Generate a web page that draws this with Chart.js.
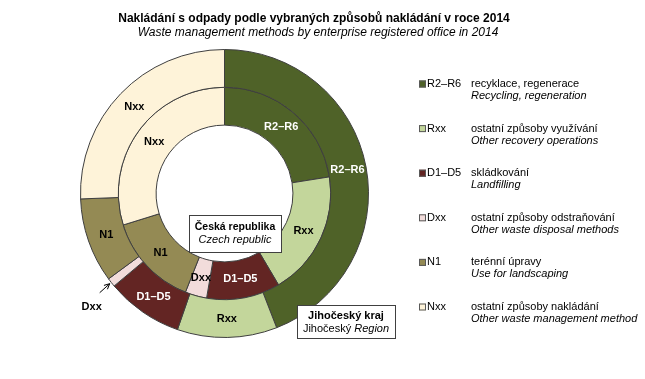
<!DOCTYPE html>
<html><head><meta charset="utf-8">
<script src="https://cdn.jsdelivr.net/npm/chart.js@4.4.1/dist/chart.umd.min.js"></script>
<style>html,body{margin:0;padding:0;background:#fff;} #wrap{width:645px;height:379px;position:relative;}</style>
</head><body><div id="wrap"><canvas id="c" width="645" height="379"></canvas></div>
<script>
const categories = ['R2–R6','Rxx','D1–D5','Dxx','N1','Nxx'];
const namesCz = ['recyklace, regenerace','ostatní způsoby využívání','skládkování','ostatní způsoby odstraňování','terénní úpravy','ostatní způsoby nakládání'];
const namesEn = ['Recycling, regeneration','Other recovery operations','Landfilling','Other waste disposal methods','Use for landscaping','Other waste management method'];
const regionValues = [44.1, 11.2, 8.6, 1.0, 9.5, 25.6];   // Jihočeský kraj (outer ring)
const czechValues = [22.5, 19.0, 11.2, 3.3, 14.2, 29.8];  // Česká republika (inner ring)
const titleText = 'Nakládání s odpady podle vybraných způsobů nakládání v roce 2014';
const subtitleText = 'Waste management methods by enterprise registered office in 2014';

const colors = ['#4F6228','#C3D69B','#632523','#F2DCDB','#948A54','#FEF3D9'];
const labelColors = ['#ffffff','#000000','#ffffff','#000000','#000000','#000000'];
const FONT = "'Liberation Sans', Arial, sans-serif";

const sliceLabels = {
  id: 'sliceLabels',
  afterDatasetsDraw(chart) {
    const ctx = chart.ctx;
    ctx.save();
    ctx.font = 'bold 11px ' + FONT;
    ctx.textAlign = 'center';
    ctx.textBaseline = 'middle';
    chart.data.datasets.forEach((ds, di) => {
      const meta = chart.getDatasetMeta(di);
      meta.data.forEach((arc, i) => {
        const p = arc.getProps(['x','y','startAngle','endAngle','innerRadius','outerRadius'], true);
        const a = (p.startAngle + p.endAngle) / 2;
        const label = chart.data.labels[i];
        if (di === 0 && i === 3) {
          const tipX = p.x + Math.cos(a) * (p.outerRadius + 2);
          const tipY = p.y + Math.sin(a) * (p.outerRadius + 2);
          const tailX = tipX - 10, tailY = tipY + 9;
          ctx.strokeStyle = '#000'; ctx.lineWidth = 1;
          ctx.beginPath(); ctx.moveTo(tailX, tailY); ctx.lineTo(tipX, tipY); ctx.stroke();
          const ang = Math.atan2(tipY - tailY, tipX - tailX);
          ctx.beginPath();
          ctx.moveTo(tipX - 6 * Math.cos(ang - 0.45), tipY - 6 * Math.sin(ang - 0.45));
          ctx.lineTo(tipX, tipY);
          ctx.lineTo(tipX - 6 * Math.cos(ang + 0.45), tipY - 6 * Math.sin(ang + 0.45));
          ctx.stroke();
          ctx.fillStyle = '#000';
          ctx.fillText(label, tipX - 18, tipY + 23);
          return;
        }
        const r = (p.innerRadius + p.outerRadius) / 2;
        ctx.fillStyle = labelColors[i];
        ctx.fillText(label, p.x + Math.cos(a) * r, p.y + Math.sin(a) * r);
      });
    });
    ctx.restore();
  }
};

const decorations = {
  id: 'decorations',
  afterDraw(chart) {
    const ctx = chart.ctx;
    ctx.save();
    ctx.fillStyle = '#000';
    ctx.textBaseline = 'middle';
    ctx.textAlign = 'center';
    ctx.font = 'bold 12px ' + FONT;
    ctx.fillText(titleText, 314, 19);
    ctx.font = 'italic 12px ' + FONT;
    ctx.fillText(subtitleText, 318, 33);

    function box(x, y, w, h) {
      ctx.fillStyle = '#fff';
      ctx.fillRect(x, y, w, h);
      ctx.strokeStyle = '#404040'; ctx.lineWidth = 1;
      ctx.strokeRect(x + 0.5, y + 0.5, w, h);
    }
    box(189, 215, 92, 37);
    ctx.fillStyle = '#000';
    ctx.font = 'bold 10.5px ' + FONT;
    ctx.fillText('Česká republika', 235, 227);
    ctx.font = 'italic 11px ' + FONT;
    ctx.fillText('Czech republic', 235, 240);

    box(297, 305, 98, 33);
    ctx.fillStyle = '#000';
    ctx.font = 'bold 11px ' + FONT;
    ctx.fillText('Jihočeský kraj', 346, 316);
    ctx.font = '11px ' + FONT;
    const w1 = ctx.measureText('Jihočeský ').width;
    ctx.font = 'italic 11px ' + FONT;
    const w2 = ctx.measureText('Region').width;
    const sx = 346 - (w1 + w2) / 2;
    ctx.textAlign = 'left';
    ctx.font = '11px ' + FONT;
    ctx.fillText('Jihočeský ', sx, 329);
    ctx.font = 'italic 11px ' + FONT;
    ctx.fillText('Region', sx + w1, 329);

    ctx.textAlign = 'left';
    categories.forEach((c, i) => {
      const y = 84 + i * 44.6;
      ctx.fillStyle = colors[i];
      ctx.fillRect(419, y - 3.5, 7, 7);
      ctx.strokeStyle = '#595959';
      ctx.strokeRect(419.5, y - 3, 6, 6);
      ctx.fillStyle = '#000';
      ctx.font = '11px ' + FONT;
      ctx.fillText(c, 427, y);
      ctx.fillText(namesCz[i], 471, y);
      ctx.font = 'italic 11px ' + FONT;
      ctx.fillText(namesEn[i], 471, y + 12);
    });
    ctx.restore();
  }
};

new Chart(document.getElementById('c'), {
  type: 'doughnut',
  data: {
    labels: categories,
    datasets: [
      { label: 'Jihočeský kraj', data: regionValues, backgroundColor: colors, borderColor: '#3F3F3F', borderWidth: 1, hoverOffset: 0 },
      { label: 'Česká republika', data: czechValues, backgroundColor: colors, borderColor: '#3F3F3F', borderWidth: 1, hoverOffset: 0 }
    ]
  },
  options: {
    responsive: false,
    animation: false,
    events: [],
    cutout: '47.5%',
    layout: { padding: { left: 80, right: 276, top: 49, bottom: 41 } },
    plugins: { legend: { display: false }, tooltip: { enabled: false }, title: { display: false } }
  },
  plugins: [sliceLabels, decorations]
});
</script>
</body></html>
